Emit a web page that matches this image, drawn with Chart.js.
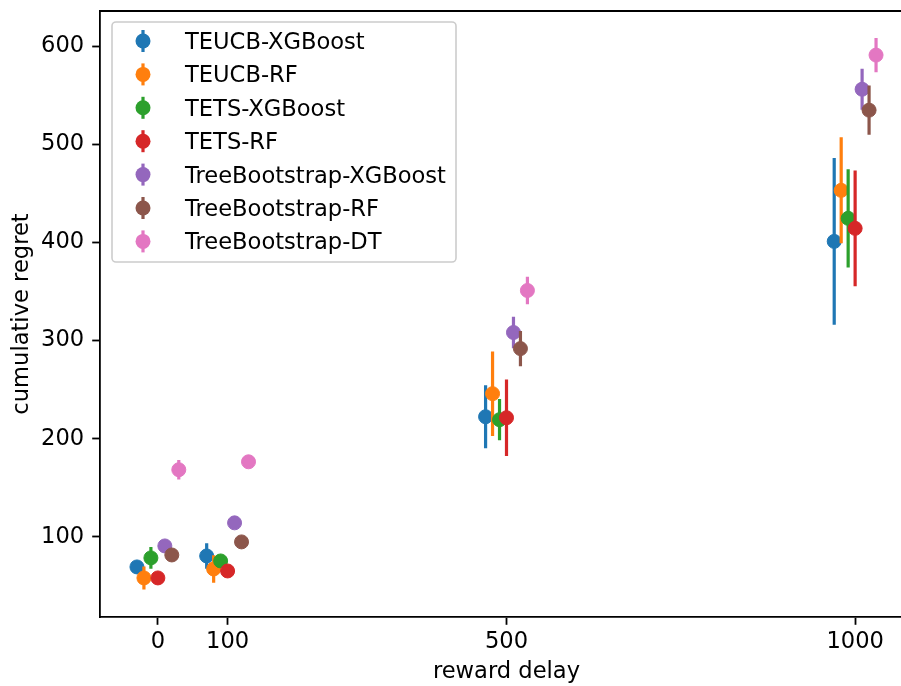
<!DOCTYPE html>
<html>
<head>
<meta charset="utf-8">
<script src="https://cdn.jsdelivr.net/npm/chart.js@4/dist/chart.umd.min.js"></script>
<style>
  html, body { margin: 0; padding: 0; background: #ffffff; overflow: hidden; width: 901px; height: 686px; }
  canvas { display: block; }
</style>
</head>
<body>
<canvas id="chart" width="914" height="686"></canvas>
<script>
// reward delay groups and ticks
var delays = [0, 100, 500, 1000];
var xTicks = [0, 100, 500, 1000];
var yTicks = [100, 200, 300, 400, 500, 600];

// mean cumulative regret per delay, and the error half-width
var teucbXgbMean = [69.4, 80.6, 222.4, 401.0];
var teucbXgbErr  = [5, 13, 32, 85];
var teucbRfMean  = [58.2, 67.3, 245.9, 453.0];
var teucbRfErr   = [11.7, 14, 43, 54];
var tetsXgbMean  = [78.6, 75.5, 219.4, 424.5];
var tetsXgbErr   = [11, 4, 21, 50];
var tetsRfMean   = [58.2, 65.3, 221.4, 414.3];
var tetsRfErr    = [3, 3, 39, 59];
var tbXgbMean    = [90.8, 114.3, 308.2, 556.0];
var tbXgbErr     = [3, 3, 16, 21];
var tbRfMean     = [81.6, 94.9, 291.8, 534.7];
var tbRfErr      = [3, 3, 18, 25];
var tbDtMean     = [168.4, 176.5, 351.0, 590.8];
var tbDtErr      = [10, 3, 14, 17.5];

var names = ['TEUCB-XGBoost', 'TEUCB-RF', 'TETS-XGBoost', 'TETS-RF',
             'TreeBootstrap-XGBoost', 'TreeBootstrap-RF', 'TreeBootstrap-DT'];
var means = [teucbXgbMean, teucbRfMean, tetsXgbMean, tetsRfMean, tbXgbMean, tbRfMean, tbDtMean];
var errs  = [teucbXgbErr, teucbRfErr, tetsXgbErr, tetsRfErr, tbXgbErr, tbRfErr, tbDtErr];
var colors = ['#1f77b4', '#ff7f0e', '#2ca02c', '#d62728', '#9467bd', '#8c564b', '#e377c2'];

var dodge = 10; // horizontal shift between methods, in delay units
var FONT = "'DejaVu Sans', sans-serif";
var FS = 22.6;

var datasets = [];
names.forEach(function (name, i) {
    var n = names.length;
    var pts = [], bars = [];
    delays.forEach(function (d, j) {
        var x = d + (i - (n - 1) / 2) * dodge;
        pts.push({ x: x, y: means[i][j] });
        bars.push({ x: x, y: means[i][j] - errs[i][j] });
        bars.push({ x: x, y: means[i][j] + errs[i][j] });
        bars.push({ x: x, y: null });
    });
    datasets.push({
        label: name + ' err',
        data: bars,
        showLine: true,
        spanGaps: false,
        borderColor: colors[i],
        borderWidth: 3.2,
        borderCapStyle: 'butt',
        pointRadius: 0,
        order: (n - i) * 2 + 1
    });
    datasets.push({
        label: name,
        data: pts,
        backgroundColor: colors[i],
        borderColor: colors[i],
        borderWidth: 1,
        pointRadius: 7,
        order: (n - i) * 2
    });
});

// legend box in the upper left, plus the top spine
var extras = {
    id: 'extras',
    afterDraw: function (chart) {
        var c = chart.ctx, a = chart.chartArea;
        c.save();
        c.strokeStyle = '#000000';
        c.lineWidth = 1.8;
        c.beginPath();
        c.moveTo(a.left - 0.9, a.top);
        c.lineTo(a.right + 0.9, a.top);
        c.lineTo(a.right, a.bottom);
        c.stroke();

        var bx = 112, by = 22, bw = 344, bh = 240, r = 4;
        c.beginPath();
        c.moveTo(bx + r, by);
        c.arcTo(bx + bw, by, bx + bw, by + bh, r);
        c.arcTo(bx + bw, by + bh, bx, by + bh, r);
        c.arcTo(bx, by + bh, bx, by, r);
        c.arcTo(bx, by, bx + bw, by, r);
        c.closePath();
        c.fillStyle = 'rgba(255,255,255,0.8)';
        c.fill();
        c.strokeStyle = '#cccccc';
        c.lineWidth = 1.6;
        c.stroke();

        c.font = FS + 'px ' + FONT;
        c.textBaseline = 'alphabetic';
        c.textAlign = 'left';
        names.forEach(function (name, i) {
            var y = 41 + i * 33.4;
            c.strokeStyle = colors[i];
            c.lineWidth = 3.2;
            c.beginPath();
            c.moveTo(143, y - 11);
            c.lineTo(143, y + 11);
            c.stroke();
            c.fillStyle = colors[i];
            c.beginPath();
            c.arc(143, y, 7.5, 0, Math.PI * 2);
            c.fill();
            c.fillStyle = '#000000';
            c.fillText(name, 185, y + 8);
        });
        c.restore();
    }
};

var ctx = document.getElementById('chart').getContext('2d');
var chart = new Chart(ctx, {
    type: 'scatter',
    data: { datasets: datasets },
    options: {
        responsive: false,
        animation: false,
        layout: { autoPadding: false, padding: { top: 11, left: 0, right: 1, bottom: 0 } },
        plugins: { legend: { display: false }, tooltip: { enabled: false } },
        scales: {
            x: {
                type: 'linear',
                min: -83,
                max: 1083,
                afterBuildTicks: function (s) { s.ticks = xTicks.map(function (v) { return { value: v }; }); },
                afterFit: function (s) { s.height = 69; s.paddingLeft = 0; s.paddingRight = 0; },
                grid: { display: true, drawOnChartArea: false, drawTicks: true, tickLength: 7.8, tickWidth: 1.8, tickColor: '#000000' },
                border: { display: true, color: '#000000', width: 1.8 },
                ticks: { color: '#000000', padding: 4, maxRotation: 0, font: { family: FONT, size: FS },
                         callback: function (v) { return String(v); } },
                title: { display: true, text: 'reward delay', color: '#000000', padding: 0, font: { family: FONT, size: FS } }
            },
            y: {
                type: 'linear',
                min: 18.4,
                max: 635.7,
                afterBuildTicks: function (s) { s.ticks = yTicks.map(function (v) { return { value: v }; }); },
                afterFit: function (s) { s.width = 100; s.paddingTop = 0; s.paddingBottom = 0; },
                grid: { display: true, drawOnChartArea: false, drawTicks: true, tickLength: 7.8, tickWidth: 1.8, tickColor: '#000000' },
                border: { display: true, color: '#000000', width: 1.8 },
                ticks: { color: '#000000', padding: 8, font: { family: FONT, size: FS },
                         callback: function (v) { return String(v); } },
                title: { display: true, text: 'cumulative regret', color: '#000000', padding: { top: 9, bottom: 0 }, font: { family: FONT, size: FS } }
            }
        }
    },
    plugins: [extras]
});
</script>
</body>
</html>
